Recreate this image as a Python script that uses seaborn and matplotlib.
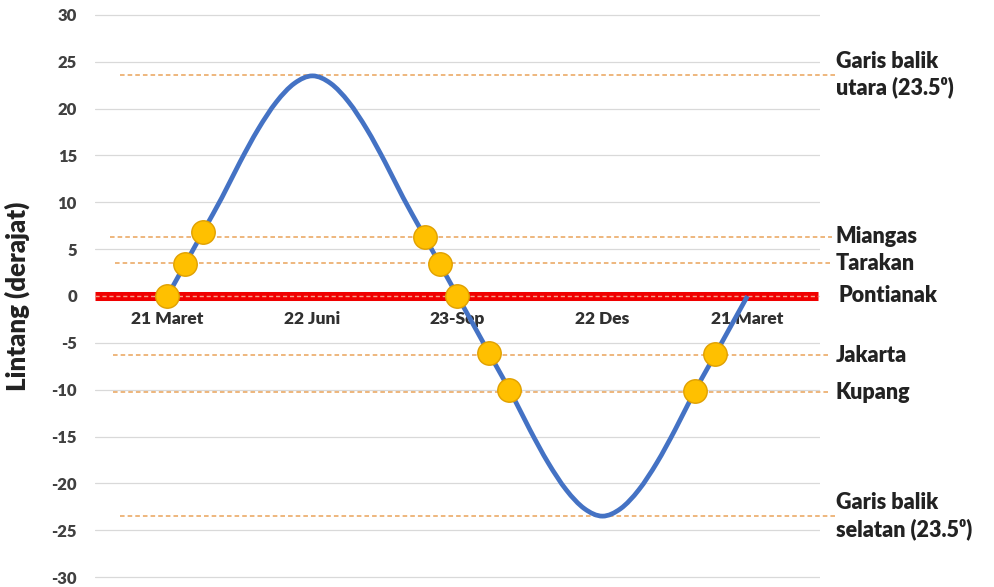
import numpy as np
import matplotlib
matplotlib.use('Agg')
import matplotlib.pyplot as plt
from matplotlib.path import Path
from matplotlib.patches import PathPatch
import seaborn as sns

# kategori sumbu x (tanggal)
categories = ['21 Maret', '22 Juni', '23-Sep', '22 Des', '21 Maret']

# lintang matahari, tiap 1/8 kategori
sun_lat = [0, 3.5, 7.0, 10.5, 14.3, 17.8, 20.7, 22.7, 23.5,
           22.7, 20.7, 17.8, 14.3, 10.5, 7.0, 3.5, 0,
           -3.5, -7.0, -10.5, -14.3, -17.8, -20.7, -22.7, -23.5,
           -22.7, -20.7, -17.8, -14.3, -10.5, -7.0, -3.5, 0]
sun_pos = np.linspace(0, 4, len(sun_lat))

# titik kuning (posisi kategori, lintang)
dot_pos = [0.0, 0.12, 0.243, 1.775, 1.879, 2.0, 2.218, 2.357, 3.64, 3.779]
dot_lat = [0, 3.4, 6.8, 6.3, 3.4, 0, -6.1, -10.0, -10.1, -6.2]

# garis putus-putus kota / garis balik
ref_names = ['Garis balik\nutara (23.5⁰)', 'Miangas', 'Tarakan',
             'Jakarta', 'Kupang', 'Garis balik\nselatan (23.5⁰)']
ref_lat = [23.6, 6.3, 3.5, -6.3, -10.3, -23.5]
equator_name = 'Pontianak'
equator_lat = 0

yticks = list(range(-30, 31, 5))

sns.set_theme(style='white')
plt.rcParams['font.family'] = ['Lato', 'DejaVu Sans']
W = 'heavy'

fig = plt.figure(figsize=(9.95, 5.87), dpi=100)
ax = fig.add_axes([95 / 995, 5.3 / 587, 725 / 995, 571.4 / 587])

ax.set_xlim(-0.5, 4.5)
ax.set_ylim(-30.5, 30.5)

for v in yticks:
    ax.axhline(v, color='#D9D9D9', lw=0.9, zorder=0)

# garis merah khatulistiwa
ax.axhline(equator_lat, xmin=0, xmax=0.997, color='#F00000', lw=6.5, zorder=1,
           solid_capstyle='butt')
ax.axhline(equator_lat, xmin=0, xmax=0.997, color='#F7A08A', lw=1,
           ls=(0, (3, 2)), zorder=1.5)

# garis putus-putus oranye
x_from = [0.034, 0.021, 0.028, 0.025, 0.025, 0.034]
x_to = [1.023, 1.017, 1.017, 1.014, 1.014, 1.023]
for lat, a, b in zip(ref_lat, x_from, x_to):
    ax.axhline(lat, xmin=a, xmax=b, color='#E9A35A', lw=1.1,
               ls=(0, (3, 2)), zorder=1, clip_on=False)

# kurva dihaluskan (gaya "smoothed line" Excel)
pts = np.column_stack([sun_pos, sun_lat])
ext = np.vstack([pts[0], pts, pts[-1]])
verts = [tuple(pts[0])]
codes = [Path.MOVETO]
for i in range(1, len(ext) - 2):
    p0, p1, p2, p3 = ext[i - 1], ext[i], ext[i + 1], ext[i + 2]
    verts += [tuple(p1 + (p2 - p0) / 6), tuple(p2 - (p3 - p1) / 6), tuple(p2)]
    codes += [Path.CURVE4] * 3
ax.add_patch(PathPatch(Path(verts, codes), fill=False, edgecolor='#4472C4',
                       lw=3.4, zorder=4, capstyle='butt'))

sns.scatterplot(x=dot_pos, y=dot_lat, ax=ax, s=285, color='#FFC000',
                edgecolor='#E0A000', linewidth=1, zorder=5, clip_on=False)

# label kanan
for name, lat in zip(ref_names, ref_lat):
    ax.text(4.61, lat, name, fontsize=15.5, fontweight=W, color='#222222',
            va='center', ha='left', linespacing=1.25)
ax.text(4.63, equator_lat, equator_name, fontsize=15.5, fontweight=W,
        color='#222222', va='center', ha='left')

# sumbu x di y = 0
ax.spines['bottom'].set_position(('data', 0))
for s in ax.spines.values():
    s.set_visible(False)
ax.set_xticks(range(len(categories)))
ax.set_xticklabels(categories, fontsize=12.5, fontweight=W, color='#303030')
ax.set_yticks(yticks)
ax.set_yticklabels([str(v) for v in yticks], fontsize=12, fontweight=W,
                   color='#404040')
ax.tick_params(axis='x', length=0, pad=11)
ax.tick_params(axis='y', length=0, pad=13)

ax.set_ylabel('Lintang (derajat)', fontsize=18.5, fontweight=W,
              color='#222222')
ax.yaxis.set_label_coords(-(95 - 30) / 725, 0.5)
ax.set_xlabel('')

fig.savefig('out.png', dpi=100)
